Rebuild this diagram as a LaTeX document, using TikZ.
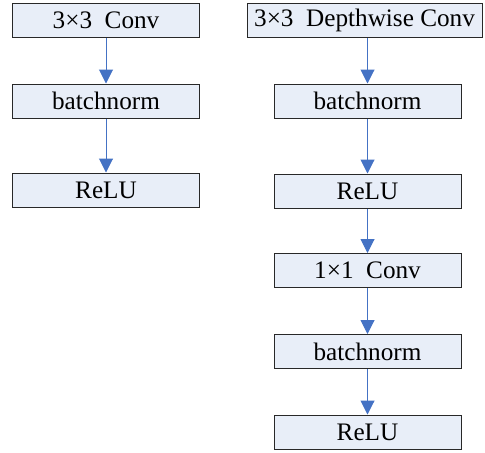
\documentclass[tikz,border=0pt]{standalone}
\usepackage{fontspec}
\setmainfont{Liberation Serif}
\usetikzlibrary{arrows.meta}
\definecolor{boxfill}{RGB}{232,238,248}
\definecolor{arrowblue}{RGB}{68,114,196}
\definecolor{boxline}{RGB}{40,40,40}
\begin{document}
\begin{tikzpicture}[x=0.5pt,y=-0.5pt,
  blk/.style={draw=boxline, fill=boxfill, line width=0.5pt, inner sep=0pt,
    minimum height=17pt, font=\fontsize{12.6pt}{14pt}\selectfont},
  narrow/.style={blk, minimum width=93.5pt},
  wide/.style={blk, minimum width=117.5pt},
  flow/.style={draw=arrowblue, line width=0.5pt,
    -{Triangle[width=7pt,length=7pt]}}]
\useasboundingbox (0,0) rectangle (485,452);
% plain convolution block
\node[narrow] (c1) at (106,20.5) {3×3\ \ Conv};
\node[narrow] (b1) at (106,101) {batchnorm};
\node[narrow] (r1) at (106,190) {ReLU};
% depthwise separable block
\node[wide]   (d2) at (364.5,20.5) {3×3\ \ Depthwise Conv};
\node[narrow] (b2) at (367.5,101) {batchnorm};
\node[narrow] (r2) at (367.5,191) {ReLU};
\node[narrow] (p2) at (367.5,270.5) {1×1\ \ Conv};
\node[narrow] (b3) at (367.5,351.5) {batchnorm};
\node[narrow] (r3) at (367.5,432) {ReLU};
% connectors
\draw[flow] (c1) -- (b1);
\draw[flow] (b1) -- (r1);
\draw[flow] (d2.south -| b2) -- (b2);
\draw[flow] (b2) -- (r2);
\draw[flow] (r2) -- (p2);
\draw[flow] (p2) -- (b3);
\draw[flow] (b3) -- (r3);
\end{tikzpicture}
\end{document}
